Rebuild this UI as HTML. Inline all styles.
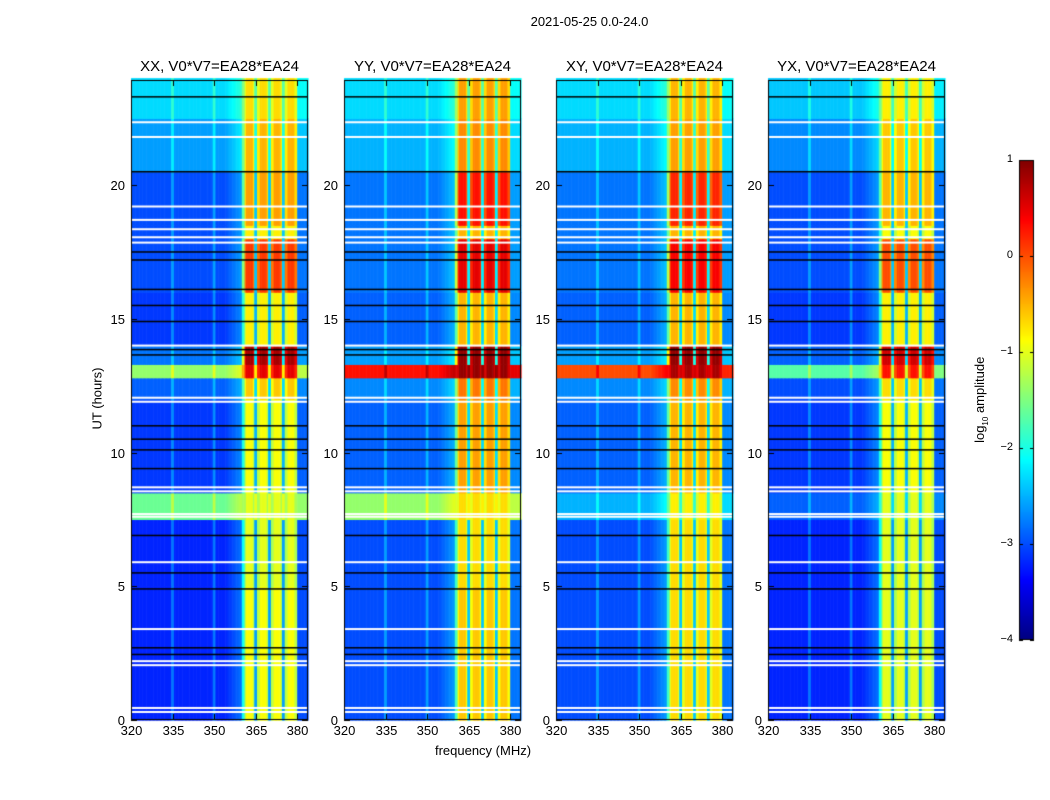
<!DOCTYPE html>
<html><head><meta charset="utf-8">
<style>
body{margin:0;background:#fff;width:1050px;height:800px;position:relative;overflow:hidden;font-family:"Liberation Sans","DejaVu Sans",sans-serif;color:#000}
.t{position:absolute;white-space:nowrap}
canvas{position:absolute}
</style></head><body>
<div class="t" style="left:0;width:1179px;text-align:center;top:14px;font-size:13px">2021-05-25 0.0-24.0</div>
<div class="t" style="left:383px;width:200px;text-align:center;top:743px;font-size:13px">frequency (MHz)</div>
<div class="t" style="left:47px;top:391px;width:100px;text-align:center;font-size:13px;transform:rotate(-90deg)">UT (hours)</div>
<div class="t" style="left:921px;top:391px;width:120px;text-align:center;font-size:13px;transform:rotate(-90deg)">log<sub style="font-size:8px">10</sub> amplitude</div>
<canvas id="cv" width="1050" height="800" style="left:0;top:0"></canvas>
<div id="labels"></div>
<script>
// ---- data ----
const panelTitles = ["XX, V0*V7=EA28*EA24","YY, V0*V7=EA28*EA24","XY, V0*V7=EA28*EA24","YX, V0*V7=EA28*EA24"];
const xTicks = [320,335,350,365,380];
const yTicks = [0,5,10,15,20];
const cbTicks = [1,0,-1,-2,-3,-4];
const segBounds = [0,5,7.5,8.5,12,12.8,13.3,14,16,18,18.5,20.5,22.5,24];
const bgXX = [-3.2,-3.2,-1.6,-3.1,-2.9,-1.4,-2.8,-3.1,-3.0,-3.0,-3.0,-2.6,-2.3];
const bgYY = [-3.0,-3.0,-1.4,-2.9,-2.7,0.3,-2.6,-2.9,-2.8,-2.8,-2.8,-2.5,-2.3];
const bgXY = [-3.0,-3.0,-2.5,-2.9,-2.7,0.0,-2.6,-2.9,-2.8,-2.8,-2.8,-2.5,-2.3];
const bgYX = [-3.2,-3.2,-2.9,-3.1,-3.0,-1.7,-2.9,-3.1,-3.0,-3.0,-3.0,-2.7,-2.4];
const bandXX = [-0.9,-1.0,-1.0,-0.9,-0.6,0.5,0.8,-0.8,0.1,-0.8,-0.4,-0.5,-0.7];
const bandYY = [-0.6,-0.7,-0.7,-0.4,-0.2,0.9,0.9,-0.5,0.5,-0.5,0.3,-0.3,-0.4];
const bandXY = [-0.7,-0.7,-0.8,-0.5,-0.3,0.8,0.9,-0.5,0.4,-0.5,0.2,-0.4,-0.5];
const bandYX = [-1.0,-1.0,-1.0,-0.9,-0.7,0.3,0.6,-0.8,0.0,-0.9,-0.5,-0.6,-0.8];
const bgSeries = [bgXX,bgYY,bgXY,bgYX];
const bandSeries = [bandXX,bandYY,bandXY,bandYX];
const gapFreqs = [365,370,375];
const faintFreqs = [335,350];
const whiteFlags = [0.3,0.45,2.05,2.2,3.4,5.9,7.6,7.7,8.55,8.7,11.9,12.05,14.0,17.85,18.05,18.35,18.7,19.2,21.8,22.35];
const blackFlags = [2.45,2.7,4.9,5.5,6.9,9.4,10.1,10.5,11.0,13.65,13.85,14.9,15.5,16.1,17.2,17.5,20.5,23.3];

// ---- geometry ----
const lefts=[131,344,556,768], W=177, TOP=80, H=640;
const fMin=320, fMax=383.9, hMax=23.93;
const xs=(p,f)=>lefts[p]+(f-fMin)/(fMax-fMin)*W;
const ys=h=>TOP+H-(h/hMax)*H;
const CB={x:1019,y:160,w:15,h:480,vmin:-4,vmax:1};
function jet(v){let t=(v-CB.vmin)/(CB.vmax-CB.vmin);t=Math.max(0,Math.min(1,t));
 const c=x=>Math.round(255*Math.max(0,Math.min(1,x)));
 return `rgb(${c(1.5-Math.abs(4*t-3))},${c(1.5-Math.abs(4*t-2))},${c(1.5-Math.abs(4*t-1))})`;}
function val(p,seg,f){const bg=bgSeries[p][seg],bd=bandSeries[p][seg];
 if(f<360){let v=bg; for(const ff of faintFreqs) if(Math.abs(f-ff)<0.5) v+=0.4; if(f>354) v+=(f-354)/6*0.4; return v;}
 if(f<361) return (bg+bd)/2;
 if(f>=380) return bg+0.2;
 for(const g of gapFreqs) if(Math.abs(f-g)<0.75) return Math.max(bg+0.6,-2.6);
 const sub=(f-360)%5; let v=bd; if(sub<1.6||sub>3.8) v-=0.3; return v;}
const ctx=document.getElementById('cv').getContext('2d');
const lab=document.getElementById('labels');
function addText(txt,x,y,style,name){const d=document.createElement('div');d.className='t';d.textContent=txt;
 d.setAttribute('style',style+`;left:${x}px;top:${y}px`);
 
 
 lab.appendChild(d);}
for(let p=0;p<4;p++){
 for(let s=0;s<segBounds.length-1;s++){
  const y0=ys(segBounds[s+1]),y1=ys(segBounds[s]);
  for(let f=fMin;f<fMax;f+=0.5){
   ctx.fillStyle=jet(val(p,s,f+0.25));
   const x0=xs(p,f),x1=xs(p,Math.min(f+0.5,fMax));
   ctx.fillRect(x0,y0,x1-x0+0.6,y1-y0+0.6);
  }}
 ctx.fillStyle='#fff';for(const h of whiteFlags) ctx.fillRect(lefts[p],ys(h)-1,W,2);
 ctx.fillStyle='#000';for(const h of blackFlags) ctx.fillRect(lefts[p],ys(h)-0.75,W,1.5);
 ctx.strokeStyle='#000';ctx.lineWidth=1;ctx.strokeRect(lefts[p]+0.5,TOP+0.5,W-1,H-1);
 for(const f of xTicks){const x=Math.round(xs(p,f))+0.5;ctx.beginPath();ctx.moveTo(x,TOP+H);ctx.lineTo(x,TOP+H-6);ctx.moveTo(x,TOP);ctx.lineTo(x,TOP+6);ctx.stroke();
  addText(String(f),x-20,TOP+H+3,'width:40px;text-align:center;font-size:13px','x-tick-label');}
 for(const h of yTicks){const y=Math.round(ys(h))+0.5;ctx.beginPath();ctx.moveTo(lefts[p],y);ctx.lineTo(lefts[p]+6,y);ctx.moveTo(lefts[p]+W,y);ctx.lineTo(lefts[p]+W-6,y);ctx.stroke();
  addText(String(h),lefts[p]-46,y-8,'width:40px;text-align:right;font-size:13px','y-tick-label');}
 addText(panelTitles[p],lefts[p]-20,58,'width:'+(W+40)+'px;text-align:center;font-size:15px','panel-title');
}
// colorbar
for(let i=0;i<CB.h;i++){const v=CB.vmax-(i+0.5)/CB.h*(CB.vmax-CB.vmin);ctx.fillStyle=jet(v);ctx.fillRect(CB.x,CB.y+i,CB.w,1);}
ctx.strokeStyle='#000';ctx.strokeRect(CB.x+0.5,CB.y+0.5,CB.w-1,CB.h-1);
for(const t of cbTicks){const y=Math.round(CB.y+(CB.vmax-t)/(CB.vmax-CB.vmin)*CB.h)+0.5;
 ctx.beginPath();ctx.moveTo(CB.x,y);ctx.lineTo(CB.x+4,y);ctx.moveTo(CB.x+CB.w,y);ctx.lineTo(CB.x+CB.w-4,y);ctx.stroke();
 addText(t<0?'\u2212'+(-t):String(t),CB.x-46,y-8,'width:40px;text-align:right;font-size:11px','colorbar-tick-label');}
</script>
</body></html>
